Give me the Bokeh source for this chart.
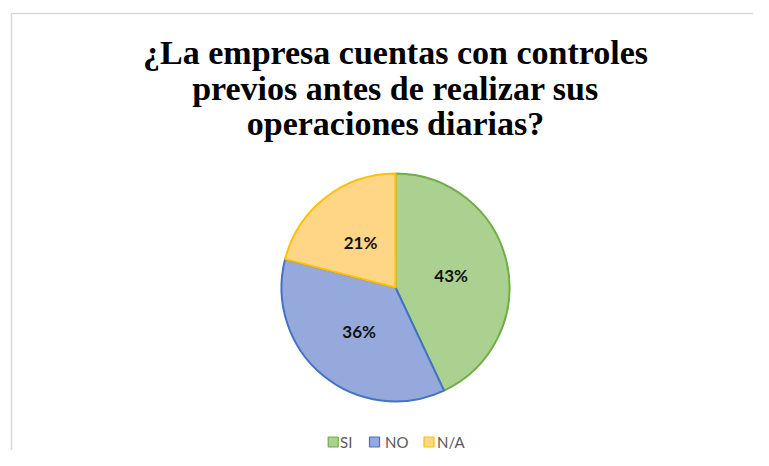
import math
from bokeh.plotting import figure
from bokeh.models import Range1d, ColumnDataSource
from bokeh.core.properties import value
from bokeh.embed import file_html
from bokeh.resources import INLINE

# ---- data ----
categories = ["SI", "NO", "N/A"]
percentages = [43, 36, 21]
title_lines = [
    "¿La empresa cuentas con controles",
    "previos antes de realizar sus",
    "operaciones diarias?",
]

# ---- styles ----
fills = ["#AAD190", "#95A9DC", "#FFD685"]
edges = ["#70AD47", "#4472C4", "#FFC000"]

W, H = 753, 450
TOT_H = 466

def Y(ref_y):
    return TOT_H - ref_y

p = figure(width=W, height=H, output_backend="svg", toolbar_location=None,
           x_range=Range1d(0, W), y_range=Range1d(TOT_H - H, TOT_H),
           min_border=0)
p.axis.visible = False
p.grid.visible = False
p.outline_line_color = None
p.background_fill_color = "white"
p.border_fill_color = "white"

# chart frame
p.quad(left=[11], right=[790], top=[Y(13)], bottom=[Y(490)],
       fill_color=None, line_color="#D9D9D9", line_width=1.5)

# title
p.text(x=[395] * 3, y=[Y(52), Y(87.5), Y(123)], text=title_lines,
       text_font=value("Liberation Serif"), text_font_style="bold",
       text_font_size="34px", text_align="center", text_baseline="middle",
       text_color="#000000")

# pie
cx, cy, r = 395, Y(287), 114
total = sum(percentages)
starts, ends, lx, ly, labels = [], [], [], [], []
a = math.pi / 2
for v in percentages:
    sweep = 2 * math.pi * v / total
    end = a - sweep
    starts.append(end)
    ends.append(a)
    mid = (a + end) / 2
    lx.append(cx + 0.5 * r * math.cos(mid))
    ly.append(cy + 0.5 * r * math.sin(mid))
    labels.append(f"{v}%")
    a = end

src = ColumnDataSource(dict(start=starts, end=ends, fill=fills, edge=edges))
p.wedge(x=cx, y=cy, radius=r, start_angle="start", end_angle="end",
        fill_color="fill", line_color="edge", line_width=2, source=src)

p.text(x=lx, y=ly, text=labels, text_font=value("Lato"), text_font_style="bold",
       text_font_size="17px", text_align="center", text_baseline="middle",
       text_color="#111111")

# legend
sq_x = [332.7, 374, 428.5]
tx_x = [339.5, 384.5, 436.5]
p.scatter(x=sq_x, y=[Y(441.5)] * 3, marker="square", size=10,
          fill_color=fills, line_color=edges, line_width=1.2)
p.text(x=tx_x, y=[Y(441.5)] * 3, text=categories, text_font=value("Lato"),
       text_font_size="15px", text_align="left", text_baseline="middle",
       text_color="#595959")

open("out.html", "w").write(file_html(p, INLINE))
